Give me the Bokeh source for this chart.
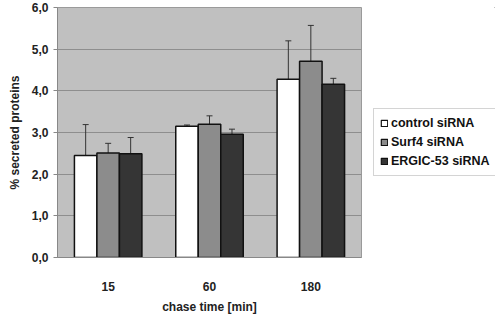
from bokeh.plotting import figure
from bokeh.layouts import row
from bokeh.models import (ColumnDataSource, FactorRange, Range1d, FixedTicker,
                          Whisker, TeeHead, Legend, LegendItem)
from bokeh.transform import dodge
from bokeh.embed import file_html
from bokeh.resources import INLINE

categories = ["15", "60", "180"]
series = ["control siRNA", "Surf4 siRNA", "ERGIC-53 siRNA"]
control = [2.45, 3.15, 4.28]
control_err = [0.74, 0.03, 0.92]
surf4 = [2.51, 3.20, 4.71]
surf4_err = [0.23, 0.20, 0.86]
ergic = [2.49, 2.96, 4.16]
ergic_err = [0.39, 0.12, 0.14]
y_ticks = [0, 1, 2, 3, 4, 5, 6]
y_tick_labels = ["0,0", "1,0", "2,0", "3,0", "4,0", "5,0", "6,0"]

colors = ["#ffffff", "#8c8c8c", "#353535"]
values = [control, surf4, ergic]
errors = [control_err, surf4_err, ergic_err]
offsets = [-0.222, 0.0, 0.222]
FONT = "Liberation Sans"

p = figure(width=363, height=316, x_range=FactorRange(*categories, range_padding=0),
           y_range=Range1d(0, 6), output_backend="svg", toolbar_location=None,
           min_border_left=57, min_border_right=2, min_border_top=7,
           min_border_bottom=57)
p.background_fill_color = "#c0c0c0"
p.border_fill_color = "#ffffff"
p.outline_line_color = "#9a9a9a"
p.xgrid.grid_line_color = None
p.ygrid.grid_line_color = "#8e8e8e"
p.ygrid.grid_line_width = 1

# legend panel as a separate, axis-less figure (its glyphs lie outside its range)
q = figure(width=132, height=316, x_range=Range1d(0, 1), y_range=Range1d(0, 1),
           output_backend="svg", toolbar_location=None, x_axis_type=None,
           y_axis_type=None, min_border=0)
q.outline_line_color = None
q.xgrid.grid_line_color = None
q.ygrid.grid_line_color = None
q.background_fill_color = "#ffffff"

items = []
for name, col, vals, errs, off in zip(series, colors, values, errors, offsets):
    src = ColumnDataSource(dict(cat=categories, val=vals,
                                lo=[v - e for v, e in zip(vals, errs)],
                                hi=[v + e for v, e in zip(vals, errs)]))
    p.vbar(x=dodge("cat", off, range=p.x_range), top="val", width=0.222,
           source=src, fill_color=col, line_color="#111111", line_width=1.5)
    w = Whisker(base=dodge("cat", off, range=p.x_range), lower="lo", upper="hi",
                source=src, line_color="#333333", line_width=1,
                upper_head=TeeHead(size=6, line_color="#333333", line_width=1),
                lower_head=TeeHead(size=6, line_color="#333333", line_width=1))
    p.add_layout(w)
    r = q.vbar(x="val", top="val", bottom="lo", width=0.01, source=src,
               fill_color=col, line_color="#111111", line_width=1.2)
    items.append(LegendItem(label=name, renderers=[r]))

p.yaxis.ticker = FixedTicker(ticks=y_ticks)
p.yaxis.major_label_overrides = {t: l for t, l in zip(y_ticks, y_tick_labels)}
p.yaxis.minor_tick_line_color = None
p.yaxis.major_tick_out = 4
p.yaxis.major_tick_in = 0
p.yaxis.major_tick_line_color = "#888888"
p.yaxis.axis_line_color = "#888888"
p.yaxis.major_label_standoff = 5
p.yaxis.axis_label = "% secreted proteins"
p.yaxis.axis_label_standoff = 7

p.xaxis.major_tick_line_color = None
p.xaxis.axis_line_color = "#888888"
p.xaxis.major_label_standoff = 18
p.xaxis.axis_label = "chase time [min]"
p.xaxis.axis_label_standoff = 6

for ax in (p.xaxis[0], p.yaxis[0]):
    ax.major_label_text_font = FONT
    ax.major_label_text_font_style = "bold"
    ax.major_label_text_font_size = "12px"
    ax.major_label_text_color = "#222222"
    ax.axis_label_text_font = FONT
    ax.axis_label_text_font_style = "bold"
    ax.axis_label_text_font_size = "12px"
    ax.axis_label_text_color = "#222222"

legend = Legend(items=items, location=(10, 81), orientation="vertical")
legend.label_text_font = FONT
legend.label_text_font_style = "bold"
legend.label_text_font_size = "12.5px"
legend.label_text_color = "#111111"
legend.glyph_width = 8
legend.glyph_height = 8
legend.label_height = 16
legend.label_standoff = 3
legend.spacing = 3
legend.padding = 6
legend.margin = 0
legend.border_line_color = "#aaaaaa"
legend.border_line_width = 1
legend.background_fill_color = "#ffffff"
legend.background_fill_alpha = 1
q.add_layout(legend, "center")

layout = row(p, q, spacing=0)
open("out.html", "w").write(file_html(layout, INLINE))
